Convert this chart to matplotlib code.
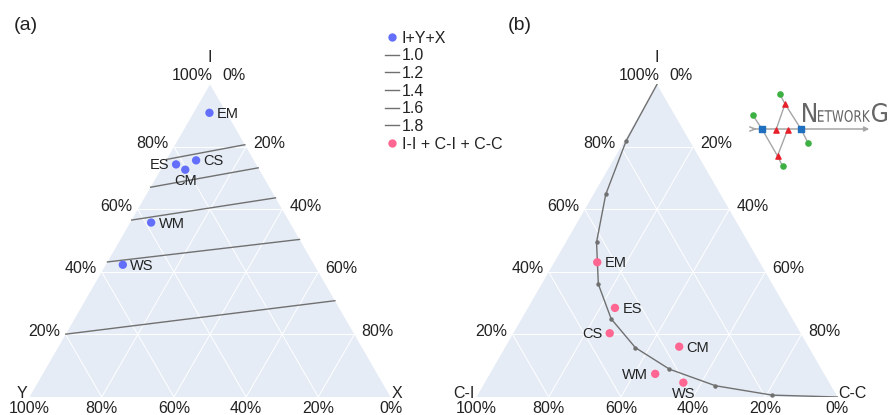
import numpy as np
import matplotlib
matplotlib.use('Agg')
import matplotlib.pyplot as plt
from matplotlib.patches import Polygon, PathPatch
from matplotlib.lines import Line2D
from matplotlib.textpath import TextPath
from matplotlib.font_manager import FontProperties
from matplotlib.transforms import Affine2D

plt.rcParams['font.family'] = ['Liberation Sans', 'DejaVu Sans']

W, H = 891, 415
H3 = np.sqrt(3) / 2
PT = 0.72  # points per pixel at dpi 100

TXT = '#222222'
FILL = '#E5ECF6'
BLUE = '#636EFA'
PINK = '#FF6692'
GREY = '#707070'

names = ['EM', 'ES', 'CS', 'CM', 'WM', 'WS']

# (a) composition I + Y + X  (Y = 1 - I - X)
a_I = [0.909, 0.744, 0.757, 0.727, 0.558, 0.423]
a_X = [0.044, 0.034, 0.083, 0.068, 0.058, 0.047]

# (a) iso-lines, I value where each meets the Y side and the X side
iso_levels = ['1.0', '1.2', '1.4', '1.6', '1.8']
iso_I_left = [0.760, 0.671, 0.566, 0.432, 0.201]
iso_I_right = [0.807, 0.733, 0.637, 0.504, 0.308]

# (b) composition I-I + C-I + C-C  (C-I = 1 - I - CC)
b_I = [0.431, 0.285, 0.204, 0.161, 0.074, 0.046]
b_CC = [0.119, 0.241, 0.267, 0.481, 0.458, 0.550]

# (b) curve
curve_I = [1.0, 0.819, 0.648, 0.495, 0.361, 0.250, 0.158, 0.089, 0.036, 0.006, 0.0]
curve_CC = [0.0, 0.005, 0.034, 0.085, 0.157, 0.248, 0.361, 0.490, 0.644, 0.816, 1.0]

ticks = [0.0, 0.2, 0.4, 0.6, 0.8, 1.0]

# which side of its point each name goes
pos_a = {'EM': 'r', 'ES': 'l', 'CS': 'r', 'CM': 'b', 'WM': 'r', 'WS': 'r'}
pos_b = {'EM': 'r', 'ES': 'r', 'CS': 'l', 'CM': 'r', 'WM': 'l', 'WS': 'b'}
side_fmt = {'r': ((7.5, -1), 'left', 'center'),
            'l': ((-7, -1), 'right', 'center'),
            'b': ((0, -11.5), 'center', 'center')}


def txy(top, right):
    top = np.asarray(top, float)
    right = np.asarray(right, float)
    return right + top / 2, top * H3


def off(ax, s, xy, dx, dy, ha, va, size=11.5):
    ax.annotate(s, xy=xy, xytext=(dx * PT, dy * PT), textcoords='offset points',
                ha=ha, va=va, fontsize=size, color=TXT, annotation_clip=False)


def ternary(left_px, lab_top, lab_left, lab_right, side=361, base=397):
    ax = fig.add_axes([left_px / W, (H - base) / H, side / W, side * H3 / H])
    ax.set_xlim(0, 1)
    ax.set_ylim(0, H3)
    ax.axis('off')
    ax.add_patch(Polygon([(0, 0), (1, 0), (0.5, H3)], closed=True,
                         facecolor=FILL, edgecolor='none', zorder=0))
    for t in ticks[1:-1]:
        ax.plot([t / 2, 1 - t / 2], [t * H3, t * H3], color='white', lw=0.7, zorder=1)
        ax.plot([t, t + (1 - t) / 2], [0, (1 - t) * H3], color='white', lw=0.7, zorder=1)
        ax.plot([1 - t, (1 - t) / 2], [0, (1 - t) * H3], color='white', lw=0.7, zorder=1)

    for t in ticks:
        lab = f'{int(round(t * 100))}%'
        # top axis, labels on the left side
        if t == 1.0:
            off(ax, lab, (0.5, H3), 3, 8.5, 'right', 'center')
        elif t > 0:
            off(ax, lab, (t / 2, t * H3), -5, 3, 'right', 'center')
        # right axis, labels on the right side
        if t == 0.0:
            off(ax, lab, (0.5, H3), 12.5, 8.5, 'left', 'center')
        elif t < 1:
            off(ax, lab, (t + (1 - t) / 2, (1 - t) * H3), 7, 3, 'left', 'center')
        # left axis, labels along the base
        off(ax, lab, (1 - t, 0), 0, -11.5, 'center', 'center')

    off(ax, lab_top, (0.5, H3), 0, 27, 'center', 'center')
    off(ax, lab_left, (0, 0), -2, 4, 'right', 'center')
    off(ax, lab_right, (1, 0), 1, 4, 'left', 'center')
    return ax


fig = plt.figure(figsize=(W / 100, H / 100), dpi=100)

# (a)
ax1 = ternary(29.5, 'I', 'Y', 'X')
for lo, hi in zip(iso_I_left, iso_I_right):
    x, y = txy([lo, hi], [0, 1 - hi])
    ax1.plot(x, y, color=GREY, lw=1.0, zorder=2)
xa, ya = txy(a_I, a_X)
ax1.scatter(xa, ya, s=36, color=BLUE, edgecolor='none', zorder=3)
for n, x, y in zip(names, xa, ya):
    (dx, dy), ha, va = side_fmt[pos_a[n]]
    off(ax1, n, (x, y), dx, dy, ha, va, size=10.5)

# (b)
ax2 = ternary(476.5, 'I', 'C-I', 'C-C')
xc, yc = txy(curve_I, curve_CC)
ax2.plot(xc, yc, color=GREY, lw=1.0, marker='o', ms=2.2,
         markevery=list(range(1, len(xc) - 1)), zorder=2)
xb, yb = txy(b_I, b_CC)
ax2.scatter(xb, yb, s=36, color=PINK, edgecolor='none', zorder=3)
for n, x, y in zip(names, xb, yb):
    (dx, dy), ha, va = side_fmt[pos_b[n]]
    off(ax2, n, (x, y), dx, dy, ha, va, size=10.5)

fig.text(25.7 / W, 1 - 25 / H, '(a)', fontsize=14, color=TXT, ha='center', va='center')
fig.text(520 / W, 1 - 25 / H, '(b)', fontsize=14, color=TXT, ha='center', va='center')

# legend
handles = [Line2D([], [], ls='none', marker='o', ms=5, color=BLUE)]
handles += [Line2D([], [], color=GREY, lw=1.0) for _ in iso_levels]
handles += [Line2D([], [], ls='none', marker='o', ms=5, color=PINK)]
labels = ['I+Y+X'] + iso_levels + ['I-I + C-I + C-C']
leg = fig.legend(handles, labels, loc='upper left', bbox_to_anchor=(385 / W, 1 - 30.5 / H),
                 frameon=False, fontsize=11.5, handlelength=0.9, handletextpad=0.15,
                 labelspacing=0.17, borderpad=0, borderaxespad=0)
for t in leg.get_texts():
    t.set_color(TXT)

# NetworkG logo
lg = fig.add_axes([745 / W, (H - 175) / H, 146 / W, 90 / H])
lg.set_xlim(745, 891)
lg.set_ylim(175, 85)
lg.axis('off')
lc = '#a6a6a6'
lg.annotate('', xy=(872, 129), xytext=(750, 129),
            arrowprops=dict(arrowstyle='-|>', color=lc, lw=1.1, mutation_scale=7))
lg.plot([750, 755], [127, 129], color=lc, lw=1.1)
lg.plot([750, 755], [131, 129], color=lc, lw=1.1)
edges = [((753, 115.5), (762, 129)), ((762, 129), (777.5, 156)), ((777.5, 156), (782.5, 166)),
         ((780, 94.5), (785, 104)), ((785, 104), (801, 129)), ((801, 129), (808.3, 143.5)),
         ((785, 104), (776, 130)), ((777.5, 156), (787.5, 130))]
for p, q in edges:
    lg.plot([p[0], q[0]], [p[1], q[1]], color=lc, lw=1.0)
lg.scatter([753, 780, 808.3, 782.5], [115.5, 94.5, 143.5, 166], s=14, color='#3cb043', zorder=3)
lg.scatter([762, 801], [129, 129], s=14, marker='s', color='#1f6fc0', zorder=3)
lg.scatter([776, 787.5, 785, 777.5], [130, 130, 104, 156], s=14, marker='^', color='#e8202a', zorder=3)

fp = FontProperties(family='DejaVu Sans')


def logo_word(s, x0, x1, ybase, cap):
    tp = TextPath((0, 0), s, size=10, prop=fp)
    bb = tp.get_extents()
    tr = (Affine2D().translate(-bb.x0, -bb.y0)
          .scale((x1 - x0) / bb.width, -cap / bb.height)
          .translate(x0, ybase))
    lg.add_patch(PathPatch(tr.transform_path(tp), facecolor='#666666', edgecolor='none'))


logo_word('N', 803, 816, 122, 19)
logo_word('ETWORK', 818, 870, 122, 12)
logo_word('G', 872, 887, 122, 19)

fig.savefig('out.png', dpi=100)
